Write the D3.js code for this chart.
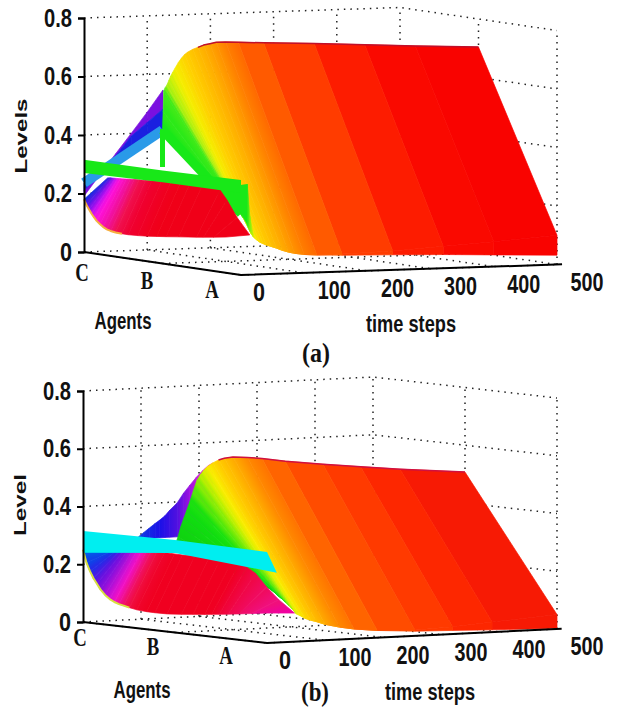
<!DOCTYPE html>
<html>
<head>
<meta charset="utf-8">
<script src="https://cdn.jsdelivr.net/npm/d3@7"></script>
<style>
  html, body { margin: 0; background: #fff; }
  text { fill: #111; }
  .num { font-family: "Liberation Sans", sans-serif; font-weight: bold; font-size: 25px; }
  .cap { font-family: "Liberation Sans", sans-serif; font-weight: bold; font-size: 23px; }
  .serif { font-family: "Liberation Serif", serif; font-weight: bold; }
  .grid { stroke: #222; stroke-width: 1.5; stroke-dasharray: 1.5 5; fill: none; }
</style>
</head>
<body>
<svg id="chart" width="617" height="710"><defs></defs></svg>
<script>
const agents = ['C', 'B', 'A'];
const levelTicks = [0, 0.2, 0.4, 0.6, 0.8];
const timeTicks = [0, 100, 200, 300, 400, 500];

// panel (a), main sheet between agent B and agent A
const timeA = [0, 1, 2, 4, 7, 10, 13, 16, 20, 25, 30, 35, 40, 48, 56, 65, 75, 85, 100, 120, 160, 240, 320, 400, 500];
const levelBa = [.46, .52, .59, .60, .61, .625, .64, .652, .667, .685, .70, .712, .72, .729, .735, .742, .746, .75, .75, .748, .743, .735, .725, .715, .704];
const levelAa = [.21, .205, .20, .195, .185, .17, .155, .14, .128, .118, .11, .105, .10, .094, .088, .08, .073, .068, .063, .06, .06, .065, .075, .085, .10];
const floorAa = [.21, .205, .20, .195, .185, .17, .155, .14, .128, .118, .11, .105, .10, .094, .088, .08, .073, .068, .063, .06, .056, .052, .047, .04, .032];

// panel (a), green patch next to agent A: agent position, time, level of each corner
const patchAgentA = [1.7, 2, 2, 2];
const patchTimeA = [0, 10, 10, 0];
const patchLevelA = [.285, .31, .17, .21];

// panel (a), fade out of that patch at agent A
const wedgeTimeA = [10, 14, 20];
const wedgeTopA = [.31, .20, .128];
const wedgeLowA = [.17, .15, .128];

// panel (a), low lobe of agent C
const lobeTimeA = [0, 4, 8, 12, 16, 20, 25, 30, 36, 42, 50, 60, 70, 85, 100, 115, 130, 150, 178, 189, 205, 225];
const lobeLowA = [.18, .16, .145, .13, .117, .105, .094, .084, .075, .069, .063, .058, .054, .05, .047, .045, .043, .041, .038, .037, .036, .035];
const lobeTopA = [.265, .265, .264, .263, .262, .261, .26, .259, .258, .257, .255, .252, .25, .247, .243, .239, .235, .228, .211, .176, .115, .054];

// panel (a), steep rise between C and B
const riseTimeA = [0, 25, 50, 75, 100, 125];
const riseTopA = [.191, .262, .332, .401, .471, .545];
const riseMidA = [.21, .265, .325, .391, .435, .48];
const riseLowA = [.236, .272, .306, .338, .372, .408];

// panel (a), first time steps, one level per agent
const startTopA = [.315, .318, .325];
const startLowA = [.27, .278, .28];
const firstStepA = [.236, .456, .21];
const firstRiseBa = [.33, .46];

// panel (b), main sheet
const timeB = [0, 5, 10, 15, 20, 26, 32, 38, 44, 50, 57, 65, 75, 85, 100, 125, 150, 190, 255, 320, 388, 500];
const levelBb = [.30, .33, .365, .393, .42, .453, .49, .524, .543, .558, .571, .581, .59, .595, .598, .594, .588, .575, .558, .543, .528, .507];
const levelAb = [.194, .188, .18, .17, .16, .15, .138, .126, .113, .097, .09, .08, .072, .066, .055, .043, .034, .025, .02, .025, .035, .05];
const floorAb = [.194, .188, .18, .17, .16, .15, .138, .126, .113, .097, .09, .08, .072, .066, .055, .043, .034, .025, .016, .0125, .008, .003];

// panel (b), low lobe of agent C
const lobeTimeB = [0, 6, 12, 18, 24, 30, 38, 46, 54, 62, 70, 80, 93, 110, 124, 145, 170, 190, 210, 222, 235, 250, 269, 290, 317];
const lobeLowB = [.25, .205, .175, .15, .13, .11, .09, .075, .064, .056, .05, .042, .033, .025, .02, .014, .01, .008, .006, .005, .004, .003, .002, .001, 0];
const lobeTopB = [.26, .26, .26, .26, .26, .258, .257, .256, .254, .252, .25, .247, .243, .236, .231, .225, .218, .212, .205, .194, .178, .155, .106, .06, .011];

// panel (b), rise behind the main sheet
const riseTimeB = [16, 25, 35, 45, 53, 62, 70, 83, 94, 105, 116, 128, 137, 145];
const riseTopB = [.311, .325, .34, .355, .366, .38, .398, .4225, .455, .482, .508, .532, .547, .555];
const riseLowB = [.305, .305, .305, .305, .305, .305, .305, .305, .305, .305, .305, .305, .305, .305];

// panel (b), first time step band
const startTopB = [.315, .32, .315];
const startLowB = [.24, .275, .242];
const startLowTimeB = [0, 0, 17];

const svg = d3.select('#chart');
const defs = svg.select('defs');
let gradientCount = 0;

// colour runs along time, like the colormap of the original surface
const mainColorA = d3.scaleLinear()
  .domain([0, 2, 7, 18, 35, 70, 110, 160, 240, 320, 500])
  .range(['#18e818', '#40ea18', '#a8f010', '#f4f000', '#ffd000', '#ffa800', '#ff7000', '#ff4c00', '#ff2c00', '#fb0c00', '#f80000']);
const wedgeColorA = d3.scaleLinear()
  .domain([10, 14, 20])
  .range(['#18e818', '#80f010', '#d0f000']);
const lobeColorA = d3.scaleLinear()
  .domain([0, 6, 12, 18, 35, 50, 70, 110, 225])
  .range(['#1a2ae0', '#6a10e8', '#c010f0', '#ff10e0', '#f0109a', '#f01050', '#f00030', '#f00018', '#f00018']);
const mainColorB = d3.scaleLinear()
  .domain([0, 25, 35, 45, 55, 70, 100, 120, 160, 200, 260, 320, 388, 500])
  .range(['#10d010', '#10e010', '#70ec08', '#c0f000', '#f8f000', '#ffd000', '#ffaa00', '#ff8c00', '#ff6a00', '#ff5000', '#ff4400', '#ff2e00', '#fa2000', '#f41408']);
const lobeColorB = d3.scaleLinear()
  .domain([0, 10, 22, 52, 75, 100, 220, 293, 317])
  .range(['#0060e8', '#1830e8', '#6010e0', '#f010d0', '#f01048', '#f00020', '#f00020', '#f01080', '#f000a0']);
const riseColorB = d3.scaleLinear()
  .domain([16, 53, 83, 105, 128, 145])
  .range(['#1040e0', '#1a10e8', '#5010e0', '#a010e0', '#e020d8', '#f030c0']);

const panels = [
  {
    x0: 84, y0: 252, agentDx: 157, agentDy: 23, timeDx: 316, timeDy: -10.5, levelPx: 234,
    agentLabel: a => [-2 - 13.5 * a, 20 - 3 * a],
    yTitle: { text: 'Levels', x: 21, y: 136, len: 75 },
    agentsTitle: [123, 329], timeTitle: [411, 332], tag: { text: '(a)', x: 316, y: 362 },
    draw: drawSurfaceA
  },
  {
    x0: 83, y0: 622, agentDx: 184, agentDy: 21, timeDx: 290, timeDy: -14, levelPx: 231,
    agentLabel: a => [-3 - 19 * a, 15 - 1.5 * a],
    yTitle: { text: 'Level', x: 20, y: 505, len: 62 },
    agentsTitle: [142, 698], timeTitle: [430, 700], tag: { text: '(b)', x: 315, y: 701 },
    draw: drawSurfaceB
  }
];

function makeProjection(p) {
  const ax = d3.scaleLinear([0, 2], [0, p.agentDx]);
  const ay = d3.scaleLinear([0, 2], [0, p.agentDy]);
  const tx = d3.scaleLinear([0, 500], [0, p.timeDx]);
  const ty = d3.scaleLinear([0, 500], [0, p.timeDy]);
  const yLevel = d3.scaleLinear([0, 0.8], [p.y0, p.y0 - p.levelPx]);
  const proj = (a, t, z) => [p.x0 + ax(a) + tx(t), yLevel(z) + ay(a) + ty(t)];
  proj.yLevel = yLevel;
  return proj;
}

// quads between two series, far rows first. Short steps are shaded smoothly, long ones stay flat
function sheet(g, proj, times, a1, s1, a2, s2, color) {
  const fillOf = i => {
    if (typeof color === 'string') return color;
    const t0 = times[i], t1 = times[i + 1];
    if (t1 - t0 > 30) return color((t0 + t1) / 2);
    // gradient runs across the row direction so neighbouring cells join up
    const p0 = proj(a1, t0, s1[i]), p1 = proj(a2, t0, s2[i]);
    const q0 = proj(a1, t1, s1[i + 1]), q1 = proj(a2, t1, s2[i + 1]);
    const rx = (p1[0] - p0[0]) + (q1[0] - q0[0]), ry = (p1[1] - p0[1]) + (q1[1] - q0[1]);
    const len = Math.hypot(rx, ry);
    if (len < 1) return color((t0 + t1) / 2);
    const nx = -ry / len, ny = rx / len;
    const mx = (q0[0] + q1[0] - p0[0] - p1[0]) / 2, my = (q0[1] + q1[1] - p0[1] - p1[1]) / 2;
    const d = mx * nx + my * ny;
    if (Math.abs(d) < 0.01) return color((t0 + t1) / 2);
    const cx = (p0[0] + p1[0]) / 2, cy = (p0[1] + p1[1]) / 2;
    const id = 'shade' + (gradientCount++);
    const grad = defs.append('linearGradient').attr('id', id)
      .attr('gradientUnits', 'userSpaceOnUse')
      .attr('x1', cx).attr('y1', cy).attr('x2', cx + nx * d).attr('y2', cy + ny * d);
    grad.append('stop').attr('offset', 0).attr('stop-color', color(t0));
    grad.append('stop').attr('offset', 1).attr('stop-color', color(t1));
    return `url(#${id})`;
  };
  g.append('g').selectAll('polygon')
    .data(d3.range(times.length - 1).reverse())
    .join('polygon')
    .attr('points', i => [
      proj(a1, times[i], s1[i]), proj(a2, times[i], s2[i]),
      proj(a2, times[i + 1], s2[i + 1]), proj(a1, times[i + 1], s1[i + 1])
    ].join(' '))
    .each(function (i) {
      const f = fillOf(i);
      d3.select(this).attr('fill', f).attr('stroke', f).attr('stroke-width', 0.7);
    });
}

function strokeLine(g, points, color, width) {
  g.append('path')
    .attr('d', d3.line()(points))
    .attr('fill', 'none')
    .attr('stroke', color)
    .attr('stroke-width', width)
    .attr('stroke-linejoin', 'round');
}

// band across the agents at the first time step
function startBand(g, proj, top, low, color, lowTime) {
  const pts = agents.map((_, a) => proj(a, 0, top[a]))
    .concat(agents.map((_, a) => proj(a, lowTime ? lowTime[a] : 0, low[a])).reverse());
  g.append('polygon').attr('points', pts.join(' ')).attr('fill', color);
}

function drawSurfaceA(g, proj) {
  sheet(g, proj, riseTimeA, 0, riseTopA, 0, riseMidA, '#7a10e0');
  sheet(g, proj, riseTimeA, 0, riseMidA, 0, riseLowA, '#1a20e0');
  sheet(g, proj, timeA, 1, levelBa, 2, levelAa, mainColorA);
  sheet(g, proj, timeA, 2, levelAa, 2, floorAa, mainColorA);
  strokeLine(g, timeA.slice(14).map((t, i) => proj(1, t, levelBa[i + 14])), '#c0102a', 1.5);
  strokeLine(g, [proj(0, 0, firstStepA[0]), proj(1, 0, firstStepA[1])], '#2a9ae8', 10);
  strokeLine(g, firstRiseBa.map(z => proj(1, 0, z)), '#18e818', 5);
  strokeLine(g, [proj(1, 0, firstStepA[1]), proj(2, 0, firstStepA[2])], '#18e818', 9);
  sheet(g, proj, wedgeTimeA, 2, wedgeTopA, 2, wedgeLowA, wedgeColorA);
  g.append('polygon')
    .attr('points', patchAgentA.map((a, i) => proj(a, patchTimeA[i], patchLevelA[i])).join(' '))
    .attr('fill', '#18e818');
  sheet(g, proj, lobeTimeA, 0, lobeLowA, 0.3, lobeTopA, lobeColorA);
  strokeLine(g, lobeTimeA.slice(0, 12).map((t, i) => proj(0, t, lobeLowA[i])), '#f6b040', 2);
  startBand(g, proj, startTopA, startLowA, '#18e818');
}

function drawSurfaceB(g, proj) {
  sheet(g, proj, riseTimeB, 0.5, riseTopB, 0.5, riseLowB, riseColorB);
  sheet(g, proj, timeB, 1, levelBb, 2, levelAb, mainColorB);
  sheet(g, proj, timeB, 2, levelAb, 2, floorAb, mainColorB);
  strokeLine(g, timeB.slice(12).map((t, i) => proj(1, t, levelBb[i + 12])), '#d01040', 1.5);
  sheet(g, proj, lobeTimeB, 0, lobeLowB, 0.3, lobeTopB, lobeColorB);
  strokeLine(g, lobeTimeB.slice(0, 12).map((t, i) => proj(0, t, lobeLowB[i])), '#d8e040', 2);
  startBand(g, proj, startTopB, startLowB, '#00eef0', startLowTimeB);
}

function drawGrid(g, proj) {
  const seg = [];
  levelTicks.forEach(z => {
    if (z > 0) {
      seg.push([proj(0, 0, z), proj(0, 500, z), proj(2, 500, z)]);
    }
  });
  timeTicks.forEach(t => {
    if (t > 0) seg.push([proj(0, t, 0), proj(0, t, 0.8)]);
    seg.push([proj(0, t, 0), proj(2, t, 0)]);
  });
  agents.forEach((_, a) => {
    seg.push([proj(a, 0, 0), proj(a, 500, 0)]);
    if (a > 0) seg.push([proj(a, 500, 0), proj(a, 500, 0.8)]);
  });
  g.append('g').selectAll('path').data(seg).join('path')
    .attr('class', 'grid')
    .attr('d', d3.line());
}

// narrow the text to the width it has in the picture
function squeeze(sel, len) {
  sel.attr('textLength', len).attr('lengthAdjust', 'spacingAndGlyphs');
}

panels.forEach(p => {
  const proj = makeProjection(p);
  const g = svg.append('g');

  drawGrid(g, proj);
  p.draw(g, proj);

  // level axis
  const axis = g.append('g')
    .attr('transform', `translate(${p.x0},0)`)
    .call(d3.axisLeft(proj.yLevel)
      .tickValues(levelTicks)
      .tickSize(6)
      .tickPadding(6)
      .tickFormat(v => v === 0 ? '0' : d3.format('.1f')(v)));
  axis.attr('font-family', null).attr('font-size', null);
  axis.select('.domain').attr('stroke', '#000').attr('stroke-width', 2);
  axis.selectAll('.tick line').attr('stroke', '#000').attr('stroke-width', 2);
  axis.selectAll('.tick text').attr('class', 'num').attr('fill', '#111')
    .attr('textLength', v => v === 0 ? 12 : 28)
    .attr('lengthAdjust', 'spacingAndGlyphs');

  // floor axes
  strokeLine(g, [proj(0, 0, 0), proj(2, 0, 0), proj(2, 508, 0)], '#000', 2);

  g.append('g').selectAll('text').data(agents).join('text')
    .attr('class', 'serif')
    .attr('font-size', 25)
    .attr('text-anchor', 'middle')
    .attr('dy', '.35em')
    .attr('transform', (d, a) => {
      const [x, y] = proj(a, 0, 0);
      const [dx, dy] = p.agentLabel(a);
      return `translate(${x + dx},${y + dy}) scale(0.75,1)`;
    })
    .text(d => d);

  g.append('g').selectAll('text').data(timeTicks).join('text')
    .attr('class', 'num')
    .attr('text-anchor', 'middle')
    .attr('dy', '.35em')
    .attr('x', t => proj(2, t, 0)[0] + (t === 0 ? 18 : 30))
    .attr('y', t => proj(2, t, 0)[1] + 17.5)
    .attr('textLength', t => t === 0 ? 12 : 33)
    .attr('lengthAdjust', 'spacingAndGlyphs')
    .text(d => d);

  g.append('text')
    .attr('class', 'cap')
    .style('font-size', '17px')
    .attr('text-anchor', 'middle')
    .attr('transform', `translate(${p.yTitle.x + 6},${p.yTitle.y}) rotate(-90)`)
    .call(squeeze, p.yTitle.len)
    .text(p.yTitle.text);

  g.append('text').attr('class', 'cap').attr('text-anchor', 'middle')
    .attr('x', p.agentsTitle[0]).attr('y', p.agentsTitle[1])
    .call(squeeze, 57).text('Agents');
  g.append('text').attr('class', 'cap').attr('text-anchor', 'middle')
    .attr('x', p.timeTitle[0]).attr('y', p.timeTitle[1])
    .call(squeeze, 90).text('time steps');
  g.append('text').attr('class', 'serif').attr('font-size', 28).attr('text-anchor', 'middle')
    .attr('x', p.tag.x).attr('y', p.tag.y)
    .call(squeeze, 28).text(p.tag.text);
});
</script>
</body>
</html>
